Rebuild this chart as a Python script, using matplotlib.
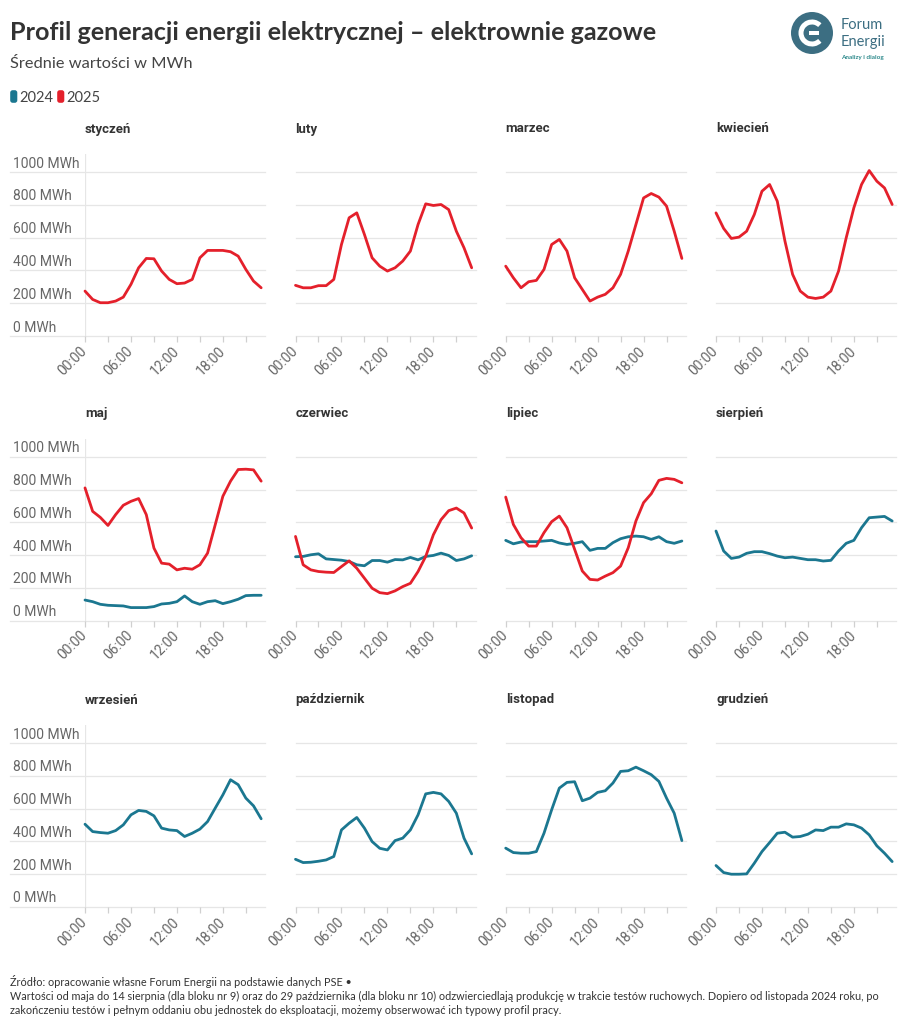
import matplotlib
matplotlib.use("Agg")
import matplotlib.pyplot as plt
from matplotlib.patches import Circle, Arc, Rectangle, FancyBboxPatch

# hourly averages (MWh)
hours = list(range(24))
hour_ticks = [0, 6, 12, 18]
hour_labels = ["00:00", "06:00", "12:00", "18:00"]
y_ticks = [0, 200, 400, 600, 800, 1000]
months = ["styczeń", "luty", "marzec", "kwiecień", "maj", "czerwiec",
          "lipiec", "sierpień", "wrzesień", "październik", "listopad", "grudzień"]

jan_2025 = [274, 223, 203, 203, 213, 237, 315, 416, 473, 471, 396, 345, 319, 323, 345, 477, 522, 522, 522, 514, 487, 406, 335, 294]
feb_2025 = [309, 294, 294, 307, 307, 345, 558, 721, 751, 619, 477, 426, 396, 416, 457, 518, 680, 806, 796, 802, 771, 639, 538, 416]
mar_2025 = [426, 355, 294, 331, 339, 406, 558, 589, 518, 355, 284, 213, 237, 254, 294, 376, 518, 680, 842, 869, 847, 792, 639, 473]
apr_2025 = [751, 656, 595, 603, 639, 741, 883, 924, 822, 579, 376, 274, 237, 229, 237, 274, 396, 599, 782, 924, 1009, 944, 903, 802]
may_2025 = [810, 667, 630, 581, 647, 704, 728, 745, 647, 443, 351, 345, 310, 320, 314, 341, 412, 585, 759, 851, 922, 924, 920, 851]
jun_2025 = [514, 341, 310, 300, 296, 294, 330, 365, 320, 259, 198, 171, 165, 182, 208, 228, 300, 392, 524, 616, 671, 687, 657, 565]
jul_2025 = [754, 587, 506, 455, 455, 537, 604, 638, 567, 435, 303, 252, 248, 272, 293, 333, 445, 608, 720, 774, 856, 868, 862, 841]

may_2024 = [126, 116, 100, 94, 92, 90, 80, 80, 80, 86, 102, 106, 116, 151, 116, 100, 116, 122, 104, 116, 131, 153, 155, 155]
jun_2024 = [390, 392, 402, 408, 377, 373, 369, 361, 341, 335, 367, 367, 357, 373, 371, 386, 371, 392, 398, 412, 398, 367, 377, 396]
jul_2024 = [490, 469, 480, 482, 482, 486, 490, 474, 465, 472, 482, 429, 441, 441, 476, 500, 512, 516, 512, 496, 512, 482, 472, 486]
aug_2024 = [547, 425, 380, 388, 411, 421, 421, 409, 394, 384, 388, 380, 372, 372, 364, 368, 425, 472, 490, 567, 628, 632, 636, 608]
sep_2024 = [505, 460, 454, 450, 466, 501, 562, 589, 583, 556, 481, 470, 466, 430, 450, 475, 521, 603, 684, 776, 746, 664, 617, 538]
oct_2024 = [291, 271, 273, 279, 287, 308, 470, 511, 546, 481, 399, 358, 348, 405, 420, 470, 562, 690, 699, 690, 644, 572, 420, 324]
nov_2024 = [359, 332, 328, 328, 338, 450, 593, 725, 760, 764, 648, 664, 699, 709, 756, 827, 831, 853, 831, 807, 766, 664, 572, 405]
dec_2024 = [253, 210, 200, 200, 202, 267, 338, 393, 450, 456, 426, 430, 444, 470, 466, 487, 487, 507, 501, 481, 440, 373, 328, 277]

series_2025 = [jan_2025, feb_2025, mar_2025, apr_2025, may_2025, jun_2025, jul_2025,
               None, None, None, None, None]
series_2024 = [None, None, None, None, may_2024, jun_2024, jul_2024,
               aug_2024, sep_2024, oct_2024, nov_2024, dec_2024]

BLUE = "#1b7790"
RED = "#e4202b"
GRID = "#e6e6e6"
TICK_GRAY = "#666666"
DARK = "#333333"
LOGO = "#3c6e82"

W, H = 922, 1024
fig = plt.figure(figsize=(W / 100, H / 100), dpi=100)
fig.patch.set_facecolor("white")

# overlay in pixel coordinates for title, legend, logo and footer
ov = fig.add_axes([0, 0, 1, 1])
ov.set_xlim(0, W)
ov.set_ylim(H, 0)
ov.axis("off")

col_left = [85, 295.5, 505.7, 716]
row_bottom = [336, 620.7, 907]
ax_w, ax_h = 180, 182
y_top = 1110

for i, month in enumerate(months):
    r, c = divmod(i, 4)
    ax = fig.add_axes([col_left[c] / W, 1 - row_bottom[r] / H, ax_w / W, ax_h / H])
    ax.set_xlim(0, 23.5)
    ax.set_ylim(0, y_top)
    ax.patch.set_alpha(0)
    for s in ax.spines.values():
        s.set_visible(False)

    x0 = (10 - col_left[c]) / ax_w if c == 0 else 0
    for v in y_ticks:
        ax.axhline(v, xmin=x0, xmax=1, color=GRID, lw=0.9, clip_on=False, zorder=0)
    if c == 0:
        ax.axvline(0, color=GRID, lw=0.9, zorder=0)
        for v in y_ticks:
            ax.annotate(f"{v} MWh", xy=((13 - col_left[c]) / ax_w, v),
                        xycoords=("axes fraction", "data"),
                        xytext=(0, 8.5), textcoords="offset pixels",
                        ha="left", va="center", fontsize=10,
                        color=TICK_GRAY, family=["Roboto", "DejaVu Sans"])

    ax.set_yticks([])
    ax.set_xticks(hour_ticks)
    ax.set_xticklabels(hour_labels)
    ax.set_xticks([3, 9, 15, 21], minor=True)
    ax.tick_params(axis="x", which="both", length=4, width=0.9, color="#d0d0d0",
                   labelsize=10, labelcolor=TICK_GRAY, pad=5)
    for lab in ax.get_xticklabels():
        lab.set_rotation(45)
        lab.set_ha("right")
        lab.set_va("center")
        lab.set_rotation_mode("anchor")
        lab.set_family(["Roboto", "DejaVu Sans"])

    if series_2024[i] is not None:
        ax.plot(hours, series_2024[i], color=BLUE, lw=2, solid_joinstyle="round",
                solid_capstyle="round", clip_on=False, zorder=3)
    if series_2025[i] is not None:
        ax.plot(hours, series_2025[i], color=RED, lw=2, solid_joinstyle="round",
                solid_capstyle="round", clip_on=False, zorder=4)

    ax.text(0, 1 + 25 / ax_h, month, transform=ax.transAxes, ha="left", va="center",
            fontsize=9.5, fontweight="bold", color=DARK, family=["Roboto", "DejaVu Sans"])

renderer = fig.canvas.get_renderer()


def fit(t, width_px):
    bb = t.get_window_extent(renderer)
    t.set_fontsize(t.get_fontsize() * width_px / bb.width)
    return t.get_fontsize()


LATO = ["Lato", "DejaVu Sans"]

title = ov.text(10, 33, "Profil generacji energii elektrycznej – elektrownie gazowe",
                ha="left", va="center", fontsize=18, fontweight="bold", color=DARK, family=LATO)
fit(title, 648)

subtitle = ov.text(10, 64, "Średnie wartości w MWh", ha="left", va="center",
                   fontsize=12, color="#444444", family=LATO)
fit(subtitle, 181)

# legend
for x, col, lab in [(10, BLUE, "2024"), (57, RED, "2025")]:
    ov.add_patch(FancyBboxPatch((x + 1, 91), 5.5, 11, boxstyle="round,pad=0.8,rounding_size=2.5",
                                fc=col, ec="none"))
    ov.text(x + 9, 97.5, lab, ha="left", va="center", fontsize=10.5, color="#444444", family=LATO)

# logo
ov.add_patch(Circle((812, 33), 21, fc=LOGO, ec="none"))
ov.add_patch(Arc((812, 33), 22, 22, theta1=45, theta2=315, color="white", lw=3.6))
ov.add_patch(Rectangle((809, 31), 10, 4, fc="white", ec="none"))
ov.text(841, 25, "Forum", ha="left", va="center", fontsize=10.5, color=LOGO, family=LATO)
ov.text(841, 42, "Energii", ha="left", va="center", fontsize=10.5, color=LOGO, family=LATO)
ov.text(841, 58, "Analizy i dialog", ha="left", va="center", fontsize=4.6,
        fontweight="bold", color="#2e8a8c", family=LATO)

# footer
foot1 = "Źródło: opracowanie własne Forum Energii na podstawie danych PSE •"
foot2 = ("Wartości od maja do 14 sierpnia (dla bloku nr 9) oraz do 29 października (dla bloku nr 10) "
         "odzwierciedlają produkcję w trakcie testów ruchowych. Dopiero od listopada 2024 roku, po")
foot3 = ("zakończeniu testów i pełnym oddaniu obu jednostek do eksploatacji, "
         "możemy obserwować ich typowy profil pracy.")
t2 = ov.text(10, 996, foot2, ha="left", va="center", fontsize=8, color=DARK, family=LATO)
fs = fit(t2, 870)
ov.text(10, 982, foot1, ha="left", va="center", fontsize=fs, color=DARK, family=LATO)
ov.text(10, 1010, foot3, ha="left", va="center", fontsize=fs, color=DARK, family=LATO)

fig.savefig("out.png", dpi=100)
